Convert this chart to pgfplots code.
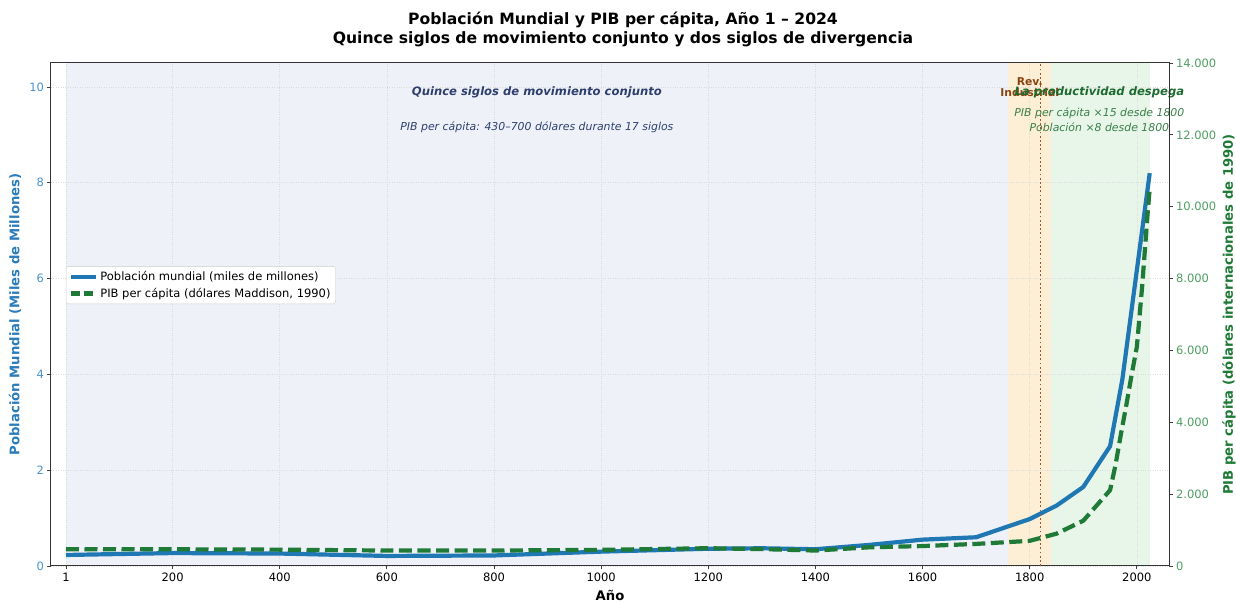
\documentclass[border=0pt]{standalone}
\usepackage{fontspec}
\setmainfont{DejaVu Sans}
\usepackage{pgfplots}
\pgfplotsset{compat=1.18}
\definecolor{popblue}{HTML}{1F77B4}
\definecolor{gdpgreen}{HTML}{1E7A36}
\definecolor{bgblue}{HTML}{EEF2F8}
\definecolor{bgorange}{HTML}{FCEFD6}
\definecolor{bggreen}{HTML}{E8F5E9}
\definecolor{lbl blue}{HTML}{2A7CBA}
\definecolor{tick blue}{HTML}{4A92CC}
\definecolor{lbl green}{HTML}{1E7A36}
\definecolor{tick green}{HTML}{4F9E61}
\definecolor{navy}{HTML}{2E3F6E}
\definecolor{brownrev}{HTML}{8B4513}
\definecolor{dotbrown}{HTML}{A8522A}
\definecolor{txtgreen}{HTML}{1E6B30}
\definecolor{txtgreen2}{HTML}{3A7F4A}
\pgfplotsset{/pgf/number format/assume math mode=true}
\begin{document}
\begin{tikzpicture}
\begin{axis}[
  name=ax1, at={(0,0)}, anchor=south west,
  scale only axis, width=1118pt, height=503pt,
  xmin=-27, xmax=2060, ymin=0, ymax=10.5,
  set layers, clip=false,
  xtick={1,200,400,600,800,1000,1200,1400,1600,1800,2000},
  ytick={0,2,4,6,8,10},
  xticklabel style={/pgf/number format/1000 sep={}, font=\fontsize{11.5}{13}\selectfont, black},
  yticklabel style={font=\fontsize{11.5}{13}\selectfont, text=tick blue},
  xtick pos=lower, ytick pos=left,
  tick align=outside, major tick length=3.5pt,
  tick style={black!75, line width=0.8pt},
  axis line style={black!80, line width=1pt},
  grid=major,
  grid style={dotted, black!14, line width=0.6pt},
  legend style={at={(rel axis cs:0.0134,0.596)}, anchor=north west,
    draw=black!20, rounded corners=2pt, fill=white,
    font=\fontsize{11.5}{13}\selectfont, inner sep=3pt, row sep=2pt},
  legend cell align=left,
  legend image code/.code={\draw[#1] (0pt,0pt) -- (25pt,0pt);},
]
\pgfonlayer{axis background}
\fill[bgblue] (axis cs:1,0) rectangle (axis cs:1760,10.5);
\fill[bgorange] (axis cs:1760,0) rectangle (axis cs:1840,10.5);
\fill[bggreen] (axis cs:1840,0) rectangle (axis cs:2025,10.5);
\endpgfonlayer
\addplot[popblue, line width=4.2pt, line join=round] coordinates {
(1,0.23) (200,0.27) (400,0.26) (600,0.21) (800,0.22) (1000,0.30)
(1200,0.36) (1300,0.37) (1400,0.35) (1500,0.44) (1600,0.55) (1700,0.60)
(1800,0.98) (1850,1.26) (1900,1.65) (1950,2.50) (1973,3.90) (2024,8.20)};
\addlegendentry{Población mundial (miles de millones)}
\addlegendimage{gdpgreen, line width=4.2pt, dash pattern=on 9pt off 4pt}
\addlegendentry{PIB per cápita (dólares Maddison, 1990)}
\addplot[dotbrown, line width=1.8pt, line cap=butt, dash pattern=on 1.8pt off 2.4pt] coordinates {(1820,0) (1820,10.5)};
\node[text=navy, font=\fontsize{11.6}{13}\selectfont\bfseries\itshape] at (axis cs:880,9.88) {Quince siglos de movimiento conjunto};
\node[text=navy, font=\fontsize{10.9}{12}\selectfont\itshape] at (axis cs:880,9.15) {PIB per cápita: 430–700 dólares durante 17 siglos};
\node[text=brownrev, font=\fontsize{10.8}{12}\selectfont\bfseries, align=center] at (axis cs:1800,10.0) {Rev.\\[-1.5pt]Industrial};
\node[text=txtgreen, font=\fontsize{11.6}{13}\selectfont\bfseries\itshape] at (axis cs:1930,9.88) {La productividad despega};
\node[text=txtgreen2, font=\fontsize{10.9}{12}\selectfont\itshape] at (axis cs:1930,9.45) {PIB per cápita ×15 desde 1800};
\node[text=txtgreen2, font=\fontsize{10.9}{12}\selectfont\itshape] at (axis cs:1930,9.15) {Población ×8 desde 1800};
\node[font=\fontsize{13.2}{15}\selectfont\bfseries] at (rel axis cs:0.5,-0.0577) {Año};
\node[rotate=90, text=lbl blue, font=\fontsize{13.2}{15}\selectfont\bfseries] at (rel axis cs:-0.0322,0.5) {Población Mundial (Miles de Millones)};
\end{axis}
\begin{axis}[
  at={(0,0)}, anchor=south west,
  scale only axis, width=1118pt, height=503pt,
  xmin=-27, xmax=2060, ymin=0, ymax=14000,
  axis y line*=right, axis x line=none, clip=false,
  ytick={0,2000,4000,6000,8000,10000,12000,14000},
  yticklabel style={/pgf/number format/1000 sep={.}, font=\fontsize{11.5}{13}\selectfont, text=tick green},
  scaled y ticks=false,
  tick align=outside, major tick length=3.5pt,
  tick style={black!75, line width=0.8pt},
  axis line style={black!80, line width=1pt},
]
\addplot[gdpgreen, line width=4.2pt, dash pattern=on 13pt off 5.5pt] coordinates {
(1,467) (200,465) (400,455) (600,430) (800,430) (1000,450) (1200,495)
(1300,470) (1400,430) (1500,520) (1600,555) (1700,615) (1800,700)
(1850,900) (1900,1260) (1950,2110) (1960,2800) (1970,3650) (1980,4450)
(1990,5300) (2000,6100) (2010,7800) (2020,9800) (2024,10500)};
\node[rotate=90, text=lbl green, font=\fontsize{13.2}{15}\selectfont\bfseries] at (rel axis cs:1.0537,0.5) {PIB per cápita (dólares internacionales de 1990)};
\end{axis}
\node[font=\fontsize{15.6}{18}\selectfont\bfseries] at (572pt,546pt) {Población Mundial y PIB per cápita, Año 1 – 2024};
\node[font=\fontsize{15.6}{18}\selectfont\bfseries] at (572pt,527pt) {Quince siglos de movimiento conjunto y dos siglos de divergencia};
\pgfresetboundingbox
\path[use as bounding box] (-51pt,-36pt) rectangle (1185pt,566pt);
\end{tikzpicture}
\end{document}
